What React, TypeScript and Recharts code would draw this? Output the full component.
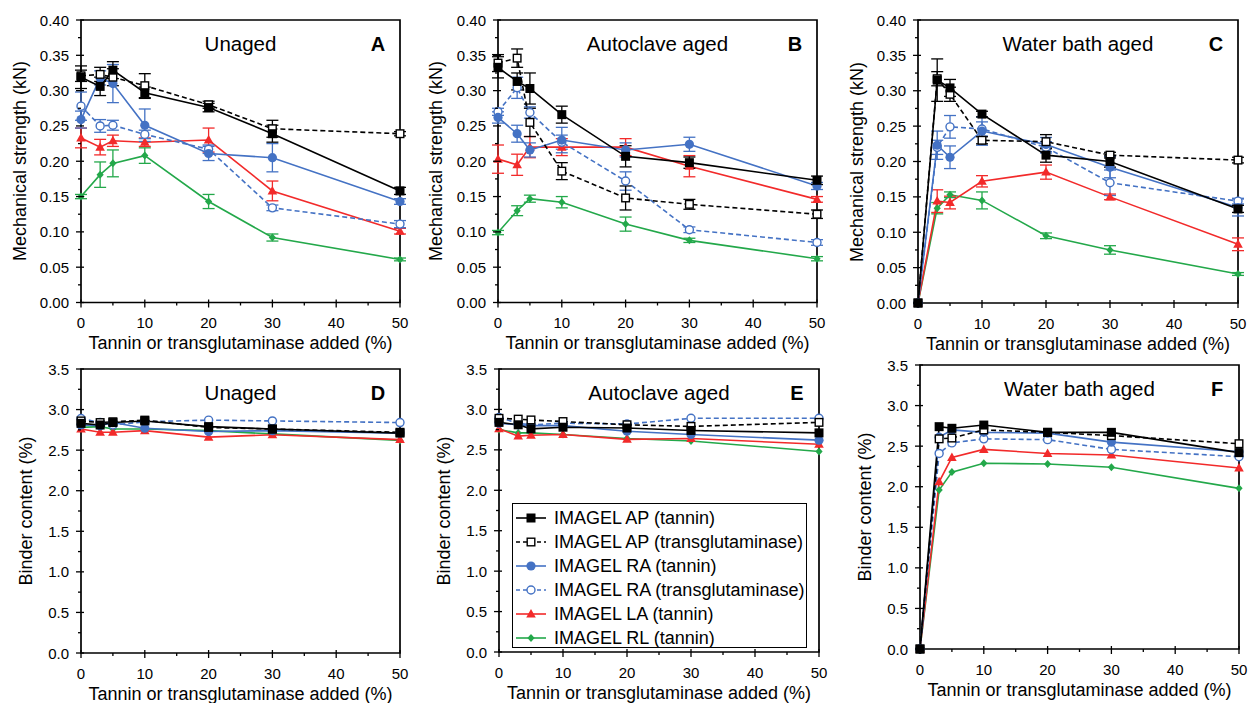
import React from "react";
import { LineChart, Line, XAxis, YAxis, ReferenceArea, ErrorBar } from "recharts";

// x positions (% tannin or transglutaminase)
const X = [0, 3, 5, 10, 20, 30, 50];
const X_TICKS = [0, 5, 10, 15, 20, 25, 30, 35, 40, 45, 50];
const MS_TICKS = [0, 0.025, 0.05, 0.075, 0.1, 0.125, 0.15, 0.175, 0.2, 0.225, 0.25, 0.275, 0.3, 0.325, 0.35, 0.375, 0.4];
const BC_TICKS = [0, 0.25, 0.5, 0.75, 1, 1.25, 1.5, 1.75, 2, 2.25, 2.5, 2.75, 3, 3.25, 3.5];

// A - unaged, mechanical strength (kN)
const A_AP_TAN = [0.319, 0.306, 0.329, 0.297, 0.276, 0.239, 0.158];
const A_AP_TG = [0.321, 0.323, 0.319, 0.307, 0.28, 0.246, 0.239];
const A_RA_TAN = [0.259, 0.318, 0.31, 0.251, 0.211, 0.205, 0.143];
const A_RA_TG = [0.278, 0.25, 0.251, 0.238, 0.217, 0.134, 0.111];
const A_LA_TAN = [0.233, 0.22, 0.229, 0.227, 0.23, 0.158, 0.101];
const A_RL_TAN = [0.15, 0.181, 0.197, 0.208, 0.143, 0.092, 0.061];
const A_AP_TAN_ERR = [0.016, 0.013, 0.012, 0.008, 0.006, 0.012, 0.005];
const A_AP_TG_ERR = [0.008, 0.01, 0.012, 0.017, 0.005, 0.012, 0.003];
const A_RA_TAN_ERR = [0.012, 0.01, 0.027, 0.023, 0.01, 0.02, 0.004];
const A_RA_TG_ERR = [0.02, 0.009, 0.007, 0.006, 0.006, 0.004, 0.005];
const A_LA_TAN_ERR = [0.014, 0.011, 0.008, 0.006, 0.017, 0.014, 0.004];
const A_RL_TAN_ERR = [0.003, 0.018, 0.019, 0.011, 0.01, 0.005, 0.002];

// B - autoclave aged
const B_AP_TAN = [0.333, 0.313, 0.303, 0.266, 0.207, 0.198, 0.173];
const B_AP_TG = [0.339, 0.346, 0.255, 0.186, 0.148, 0.139, 0.125];
const B_RA_TAN = [0.262, 0.239, 0.216, 0.23, 0.216, 0.224, 0.165];
const B_RA_TG = [0.27, 0.304, 0.269, 0.227, 0.172, 0.103, 0.085];
const B_LA_TAN = [0.203, 0.195, 0.22, 0.22, 0.22, 0.193, 0.146];
const B_RL_TAN = [0.099, 0.13, 0.147, 0.142, 0.111, 0.088, 0.062];
const B_AP_TAN_ERR = [0.015, 0.012, 0.022, 0.012, 0.015, 0.008, 0.006];
const B_AP_TG_ERR = [0.012, 0.013, 0.02, 0.012, 0.017, 0.007, 0.006];
const B_RA_TAN_ERR = [0.008, 0.012, 0.01, 0.018, 0.01, 0.01, 0.005];
const B_RA_TG_ERR = [0.005, 0.015, 0.008, 0.01, 0.013, 0.004, 0.004];
const B_LA_TAN_ERR = [0.02, 0.015, 0.015, 0.012, 0.012, 0.015, 0.004];
const B_RL_TAN_ERR = [0.003, 0.007, 0.005, 0.008, 0.01, 0.003, 0.003];

// C - water bath aged
const C_AP_TAN = [0, 0.315, 0.304, 0.267, 0.209, 0.2, 0.133];
const C_AP_TG = [0, 0.317, 0.295, 0.23, 0.228, 0.209, 0.202];
const C_RA_TAN = [0, 0.223, 0.206, 0.243, 0.224, 0.192, 0.135];
const C_RA_TG = [0, 0.22, 0.249, 0.246, 0.22, 0.17, 0.144];
const C_LA_TAN = [0, 0.144, 0.142, 0.172, 0.185, 0.15, 0.083];
const C_RL_TAN = [0, 0.134, 0.153, 0.145, 0.095, 0.075, 0.041];
const C_AP_TAN_ERR = [0, 0.03, 0.012, 0.004, 0.01, 0.008, 0.005];
const C_AP_TG_ERR = [0, 0.01, 0.01, 0.005, 0.01, 0.004, 0.004];
const C_RA_TAN_ERR = [0, 0.02, 0.016, 0.02, 0.01, 0.015, 0.012];
const C_RA_TG_ERR = [0, 0.01, 0.016, 0.01, 0.008, 0.018, 0.004];
const C_LA_TAN_ERR = [0, 0.016, 0.009, 0.008, 0.01, 0.004, 0.009];
const C_RL_TAN_ERR = [0, 0.008, 0.004, 0.012, 0.004, 0.006, 0.002];

// D - unaged, binder content (%)
const D_AP_TAN = [2.83, 2.81, 2.84, 2.86, 2.79, 2.76, 2.71];
const D_AP_TG = [2.86, 2.84, 2.85, 2.87, 2.78, 2.76, 2.72];
const D_RA_TAN = [2.81, 2.8, 2.84, 2.77, 2.73, 2.74, 2.71];
const D_RA_TG = [2.89, 2.84, 2.81, 2.85, 2.87, 2.86, 2.84];
const D_LA_TAN = [2.76, 2.72, 2.72, 2.74, 2.66, 2.69, 2.63];
const D_RL_TAN = [2.78, 2.79, 2.76, 2.76, 2.74, 2.7, 2.62];

// E - autoclave aged
const E_AP_TAN = [2.84, 2.81, 2.76, 2.78, 2.77, 2.74, 2.71];
const E_AP_TG = [2.89, 2.88, 2.87, 2.85, 2.81, 2.79, 2.84];
const E_RA_TAN = [2.83, 2.81, 2.8, 2.8, 2.73, 2.69, 2.62];
const E_RA_TG = [2.9, 2.83, 2.81, 2.83, 2.82, 2.89, 2.89];
const E_LA_TAN = [2.76, 2.67, 2.68, 2.69, 2.63, 2.64, 2.57];
const E_RL_TAN = [2.75, 2.71, 2.71, 2.69, 2.64, 2.61, 2.48];

// F - water bath aged
const F_AP_TAN = [0, 2.74, 2.72, 2.76, 2.67, 2.67, 2.42];
const F_AP_TG = [0, 2.59, 2.6, 2.7, 2.67, 2.63, 2.53];
const F_RA_TAN = [0, 2.61, 2.7, 2.67, 2.66, 2.55, 2.43];
const F_RA_TG = [0, 2.41, 2.54, 2.59, 2.58, 2.46, 2.37];
const F_LA_TAN = [0, 2.06, 2.36, 2.46, 2.41, 2.39, 2.23];
const F_RL_TAN = [0, 1.96, 2.18, 2.29, 2.28, 2.24, 1.98];

const FONT = '"Liberation Sans", Arial, Helvetica, sans-serif';
const BLUE = "#4472c4";
const RED = "#f22a2a";
const GREEN = "#23a84a";
const X_TITLE = "Tannin or transglutaminase added (%)";

type Shape = "sqFill" | "sqOpen" | "circFill" | "circOpen" | "tri" | "diamond";

const SERIES: { name: string; color: string; dash?: string; shape: Shape }[] = [
  { name: "IMAGEL AP (tannin)", color: "#000", shape: "sqFill" },
  { name: "IMAGEL AP (transglutaminase)", color: "#000", dash: "5 3", shape: "sqOpen" },
  { name: "IMAGEL RA (tannin)", color: BLUE, shape: "circFill" },
  { name: "IMAGEL RA (transglutaminase)", color: BLUE, dash: "5 3", shape: "circOpen" },
  { name: "IMAGEL LA (tannin)", color: RED, shape: "tri" },
  { name: "IMAGEL RL (tannin)", color: GREEN, shape: "diamond" },
];

function Marker({ cx, cy, shape, color }: { cx: number; cy: number; shape: Shape; color: string }) {
  switch (shape) {
    case "sqFill":
      return <rect x={cx - 4.5} y={cy - 4.5} width={9} height={9} fill={color} />;
    case "sqOpen":
      return <rect x={cx - 3.8} y={cy - 3.8} width={7.6} height={7.6} fill="#fff" stroke={color} strokeWidth={1.4} />;
    case "circFill":
      return <circle cx={cx} cy={cy} r={4.6} fill={color} />;
    case "circOpen":
      return <circle cx={cx} cy={cy} r={4} fill="#fff" stroke={color} strokeWidth={1.4} />;
    case "tri":
      return <path d={`M${cx},${cy - 5} L${cx + 4.8},${cy + 3.5} L${cx - 4.8},${cy + 3.5} Z`} fill={color} />;
    default:
      return <path d={`M${cx},${cy - 4} L${cx + 3.6},${cy} L${cx},${cy + 4} L${cx - 3.6},${cy} Z`} fill={color} />;
  }
}

function makeYTick(step: number, digits: number) {
  return (props: any) => {
    const { x, y, payload } = props;
    const v = payload.value as number;
    const major = Math.abs(v / step - Math.round(v / step)) < 1e-6;
    return (
      <g>
        <line x1={major ? x - 5 : x - 3} x2={major ? x + 3 : x} y1={y} y2={y} stroke="#000" strokeWidth={1.3} />
        {major && (
          <text x={x - 12} y={y} textAnchor="end" dominantBaseline="central" fontSize={15} fontFamily={FONT} fill="#000">
            {v.toFixed(digits)}
          </text>
        )}
      </g>
    );
  };
}

function XTick(props: any) {
  const { x, y, payload } = props;
  const v = payload.value as number;
  const major = v % 10 === 0;
  return (
    <g>
      <line x1={x} x2={x} y1={major ? y - 3 : y} y2={major ? y + 5 : y + 3} stroke="#000" strokeWidth={1.3} />
      {major && (
        <text x={x} y={y + 20} textAnchor="middle" dominantBaseline="central" fontSize={15} fontFamily={FONT} fill="#000">
          {v}
        </text>
      )}
    </g>
  );
}

interface PanelCfg {
  L: number;
  T: number;
  R: number;
  B: number;
  title: string;
  letter: string;
  yMax: number;
  yTicks: number[];
  step: number;
  digits: number;
  yLabel: string;
  yLabelX: number;
  values: number[][];
  errs?: number[][];
}

const PANELS: PanelCfg[] = [
  {
    L: 81, T: 19.5, R: 400, B: 302, title: "Unaged", letter: "A", yMax: 0.4, yTicks: MS_TICKS, step: 0.05, digits: 2,
    yLabel: "Mechanical strength (kN)", yLabelX: 20,
    values: [A_AP_TAN, A_AP_TG, A_RA_TAN, A_RA_TG, A_LA_TAN, A_RL_TAN],
    errs: [A_AP_TAN_ERR, A_AP_TG_ERR, A_RA_TAN_ERR, A_RA_TG_ERR, A_LA_TAN_ERR, A_RL_TAN_ERR],
  },
  {
    L: 498, T: 19.5, R: 817, B: 302, title: "Autoclave aged", letter: "B", yMax: 0.4, yTicks: MS_TICKS, step: 0.05, digits: 2,
    yLabel: "Mechanical strength (kN)", yLabelX: 436,
    values: [B_AP_TAN, B_AP_TG, B_RA_TAN, B_RA_TG, B_LA_TAN, B_RL_TAN],
    errs: [B_AP_TAN_ERR, B_AP_TG_ERR, B_RA_TAN_ERR, B_RA_TG_ERR, B_LA_TAN_ERR, B_RL_TAN_ERR],
  },
  {
    L: 918, T: 20, R: 1238, B: 303, title: "Water bath aged", letter: "C", yMax: 0.4, yTicks: MS_TICKS, step: 0.05, digits: 2,
    yLabel: "Mechanical strength (kN)", yLabelX: 857,
    values: [C_AP_TAN, C_AP_TG, C_RA_TAN, C_RA_TG, C_LA_TAN, C_RL_TAN],
    errs: [C_AP_TAN_ERR, C_AP_TG_ERR, C_RA_TAN_ERR, C_RA_TG_ERR, C_LA_TAN_ERR, C_RL_TAN_ERR],
  },
  {
    L: 81, T: 369, R: 400, B: 653, title: "Unaged", letter: "D", yMax: 3.5, yTicks: BC_TICKS, step: 0.5, digits: 1,
    yLabel: "Binder content (%)", yLabelX: 26,
    values: [D_AP_TAN, D_AP_TG, D_RA_TAN, D_RA_TG, D_LA_TAN, D_RL_TAN],
  },
  {
    L: 499, T: 369, R: 819, B: 652, title: "Autoclave aged", letter: "E", yMax: 3.5, yTicks: BC_TICKS, step: 0.5, digits: 1,
    yLabel: "Binder content (%)", yLabelX: 444,
    values: [E_AP_TAN, E_AP_TG, E_RA_TAN, E_RA_TG, E_LA_TAN, E_RL_TAN],
  },
  {
    L: 920, T: 365, R: 1239, B: 649, title: "Water bath aged", letter: "F", yMax: 3.5, yTicks: BC_TICKS, step: 0.5, digits: 1,
    yLabel: "Binder content (%)", yLabelX: 865,
    values: [F_AP_TAN, F_AP_TG, F_RA_TAN, F_RA_TG, F_LA_TAN, F_RL_TAN],
  },
];

const PAD_L = 60;
const PAD_T = 10;
const PAD_R = 12;
const PAD_B = 32;

function Panel({ cfg }: { cfg: PanelCfg }) {
  const w = cfg.R - cfg.L;
  const h = cfg.B - cfg.T;
  const data = X.map((x, i) => {
    const row: Record<string, number> = { x };
    cfg.values.forEach((vals, s) => {
      row[`s${s}`] = vals[i];
      if (cfg.errs) row[`e${s}`] = cfg.errs[s][i];
    });
    return row;
  });
  // draw black series last so they sit on top
  const order = [5, 4, 3, 2, 1, 0];
  const cx = (cfg.L + cfg.R) / 2;
  const cy = (cfg.T + cfg.B) / 2;
  const text: React.CSSProperties = { position: "absolute", fontFamily: FONT, color: "#000", whiteSpace: "nowrap", lineHeight: 1 };
  return (
    <>
      <div style={{ position: "absolute", left: cfg.L - PAD_L, top: cfg.T - PAD_T }}>
        <LineChart
          width={w + PAD_L + PAD_R}
          height={h + PAD_T + PAD_B}
          data={data}
          margin={{ top: PAD_T, right: PAD_R, bottom: 0, left: 0 }}
        >
          <XAxis
            dataKey="x"
            type="number"
            domain={[0, 50]}
            ticks={X_TICKS}
            interval={0}
            height={PAD_B}
            tickSize={0}
            tickMargin={0}
            axisLine={false}
            tickLine={false}
            tick={XTick}
          />
          <YAxis
            type="number"
            domain={[0, cfg.yMax]}
            ticks={cfg.yTicks}
            interval={0}
            width={PAD_L}
            tickSize={0}
            tickMargin={0}
            axisLine={false}
            tickLine={false}
            tick={makeYTick(cfg.step, cfg.digits)}
          />
          <ReferenceArea x1={0} x2={50} y1={0} y2={cfg.yMax} fill="none" fillOpacity={0} stroke="#000" strokeWidth={1.7} />
          {order.map((s) => {
            const st = SERIES[s];
            return (
              <Line
                key={s}
                type="linear"
                dataKey={`s${s}`}
                stroke={st.color}
                strokeWidth={1.6}
                strokeDasharray={st.dash}
                isAnimationActive={false}
                activeDot={false}
                dot={(p: any) => <Marker key={`d${s}-${p.index}`} cx={p.cx} cy={p.cy} shape={st.shape} color={st.color} />}
              >
                {cfg.errs && (
                  <ErrorBar dataKey={`e${s}`} direction="y" width={6} stroke={st.color} strokeWidth={1.3} isAnimationActive={false} />
                )}
              </Line>
            );
          })}
        </LineChart>
      </div>
      <div style={{ ...text, left: cx, top: cfg.T + 24, transform: "translate(-50%, -50%)", fontSize: 20.5 }}>{cfg.title}</div>
      <div style={{ ...text, left: cfg.R - 22, top: cfg.T + 24, transform: "translate(-50%, -50%)", fontSize: 20, fontWeight: "bold" }}>
        {cfg.letter}
      </div>
      <div style={{ ...text, left: cx, top: cfg.B + 41, transform: "translate(-50%, -50%)", fontSize: 18 }}>{X_TITLE}</div>
      <div style={{ ...text, left: cfg.yLabelX, top: cy, transform: "translate(-50%, -50%) rotate(-90deg)", fontSize: 18 }}>
        {cfg.yLabel}
      </div>
    </>
  );
}

function LegendBox() {
  return (
    <div
      style={{
        position: "absolute",
        left: 512,
        top: 503,
        width: 293,
        height: 141,
        border: "1.6px solid #000",
        background: "#fff",
        paddingTop: 2,
        boxSizing: "content-box",
      }}
    >
      {SERIES.map((s) => (
        <div key={s.name} style={{ display: "flex", alignItems: "center", height: 24 }}>
          <svg width={36} height={24} style={{ marginLeft: 2 }}>
            <line x1={1} x2={31} y1={12} y2={12} stroke={s.color} strokeWidth={1.6} strokeDasharray={s.dash ? "4 3" : undefined} />
            <Marker cx={16} cy={12} shape={s.shape} color={s.color} />
          </svg>
          <span style={{ fontFamily: FONT, fontSize: 18, marginLeft: 3, whiteSpace: "nowrap", lineHeight: 1 }}>{s.name}</span>
        </div>
      ))}
    </div>
  );
}

export default function App() {
  return (
    <div style={{ position: "relative", width: 1248, height: 703, overflow: "hidden", background: "#fff" }}>
      <style>{`body{margin:0}`}</style>
      {PANELS.map((p) => (
        <Panel key={p.letter} cfg={p} />
      ))}
      <LegendBox />
    </div>
  );
}
